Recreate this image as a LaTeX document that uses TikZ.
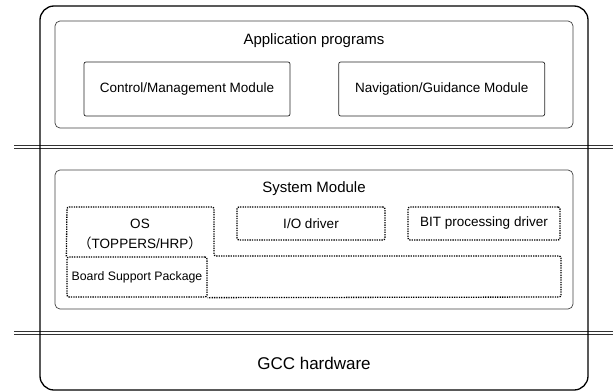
\documentclass[tikz,border=0pt]{standalone}
\usepackage{fontspec}
\setmainfont{Liberation Sans}
\newfontfamily\cjk{Noto Sans CJK JP}
\usetikzlibrary{positioning}

\begin{document}
\begin{tikzpicture}[x=1pt, y=-1pt,
	lbl/.style={font=\fontsize{13.5}{16}\selectfont, inner sep=0pt},
	hdr/.style={font=\fontsize{15}{18}\selectfont, inner sep=0pt},
	dots/.style={dash pattern=on 1.3pt off 1.1pt, line width=1.3pt},
	layer/.style={draw=black!75, line width=0.7pt, rounded corners=5pt, inner sep=0pt},
	modbox/.style={draw=black!85, line width=0.7pt, rounded corners=2pt, minimum width=206pt, minimum height=54pt, lbl},
	drvbox/.style={draw, dots, rounded corners=2pt, minimum height=33pt, lbl}]
	\useasboundingbox (0,0) rectangle (613,391);
	% layer separators
	\foreach \y in {147,333}
		\draw[draw=black!80, line width=0.8pt, double=white, double distance=2.4pt] (14,\y) -- (613,\y);

	\node[draw, line width=1.3pt, rounded corners=14pt, minimum width=548pt, minimum height=384pt] (hw) at (314,198) {};
	\node[font=\fontsize{17}{20}\selectfont, inner sep=0pt] (gcc) at (314,363) {GCC hardware};

	% application layer
	\node[layer, minimum width=518pt, minimum height=107pt] (app) at (314,74.5) {};
	\node[hdr] (apptitle) at (314,41) {Application programs};
	\node[modbox] (ctrl) at (187,89) {Control/Management Module};
	\node[modbox, right=48pt of ctrl] (nav) {Navigation/Guidance Module};

	% system layer
	\node[layer, minimum width=518pt, minimum height=139pt] (sys) at (314,239.5) {};
	\node[hdr] (systitle) at (314,189) {System Module};
	\node[drvbox, minimum width=148pt] (io) at (311,223.5) {I/O driver};
	\node[drvbox, minimum width=152pt] (bit) at (484,223.5) {BIT processing driver};
	\node[drvbox, minimum width=140pt, minimum height=40pt, font=\fontsize{12.3}{15}\selectfont] (bsp) at (137,277) {Board Support Package};
	\node[lbl, align=center] (os) at (140,234) {OS\\[4pt]{\cjk （}TOPPERS/HRP{\cjk ）}};
	\draw[dots, rounded corners=2pt] (bsp.north west) -- (67,207) -- (214,207) -- (214,256) -- (561,256) -- (561,297) -- (bsp.south east);
\end{tikzpicture}
\end{document}
